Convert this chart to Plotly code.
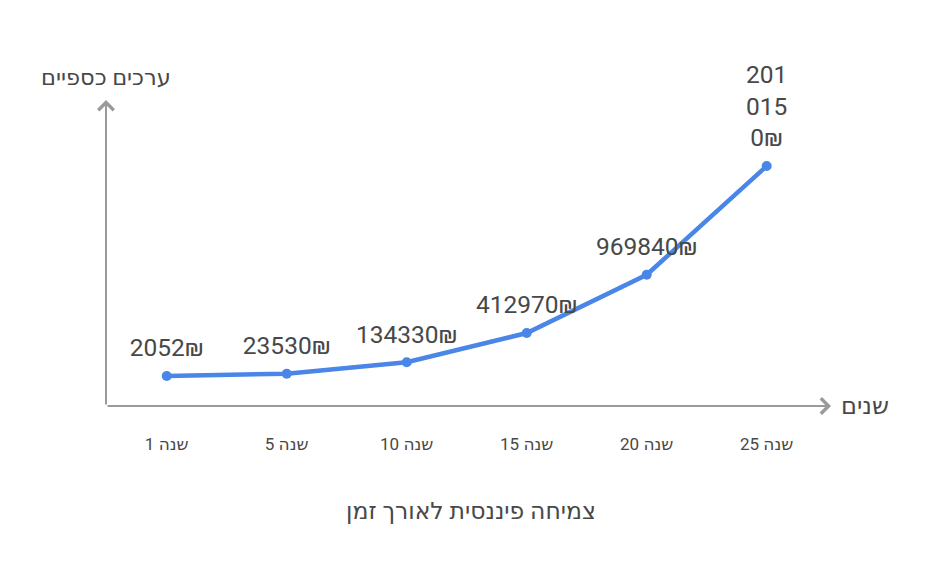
import plotly.graph_objects as go

# Data
years = ["1 שנה", "5 שנה", "10 שנה", "15 שנה", "20 שנה", "25 שנה"]
values = [2052, 23530, 134330, 412970, 969840, 2010150]
currency = "₪"

chart_title = "צמיחה פיננסית לאורך זמן"
x_title = "שנים"
y_title = "ערכים כספיים"

LINE = "#4a86e8"
AXIS = "#9a9a9a"
TEXT = "#484848"
FONT = "Roboto, 'DejaVu Sans', sans-serif"


def label(v, wrap=None):
    s = f"{v}{currency}"
    if wrap:
        s = "<br>".join(s[i:i + wrap] for i in range(0, len(s), wrap))
    return s


labels = [label(v) for v in values[:-1]] + [label(values[-1], wrap=3)]

W, H = 933, 588
OFF = 8  # page body margin
pw, ph = 725, 306
ml, mt = 106 - OFF, 100 - OFF
mr = W - ml - pw
mb = H - mt - ph

fig = go.Figure()
fig.add_trace(go.Scatter(
    x=years, y=values,
    mode="lines+markers",
    line=dict(color=LINE, width=4.5),
    marker=dict(color=LINE, size=10),
    hoverinfo="skip",
    cliponaxis=False,
))
# value labels (invisible larger markers push text further above the points)
fig.add_trace(go.Scatter(
    x=years, y=values,
    mode="markers+text",
    marker=dict(color="rgba(0,0,0,0)", size=20),
    text=labels,
    textposition="top center",
    textfont=dict(size=24.5, color=TEXT, family=FONT),
    hoverinfo="skip",
    cliponaxis=False,
))

fig.update_layout(
    width=W, height=H,
    margin=dict(l=ml, r=mr, t=mt, b=mb),
    paper_bgcolor="white", plot_bgcolor="white",
    showlegend=False,
    font=dict(family=FONT, color=TEXT),
    title=dict(text=chart_title, x=(471 - OFF) / W, xanchor="center",
               y=1 - (511 - OFF) / H, yanchor="middle",
               font=dict(size=23.5, color=TEXT, family=FONT)),
    xaxis=dict(range=[-0.506, 5.536], showgrid=False, zeroline=False,
               showline=False, ticks="", ticklabelstandoff=26,
               tickfont=dict(size=17, color=TEXT, family=FONT),
               fixedrange=True),
    yaxis=dict(range=[-284810, 2641190], showgrid=False, zeroline=False,
               showline=False, showticklabels=False, ticks="",
               fixedrange=True),
)

# x axis with arrow
fig.add_annotation(x=1, y=0, xref="paper", yref="paper",
                   ax=-pw, ay=0, axref="pixel", ayref="pixel",
                   showarrow=True, arrowhead=4, arrowsize=1.5, arrowwidth=2,
                   arrowcolor=AXIS, text="", standoff=0)
# y axis with arrow
fig.add_annotation(x=0, y=1, xref="paper", yref="paper",
                   ax=0, ay=ph, axref="pixel", ayref="pixel",
                   showarrow=True, arrowhead=4, arrowsize=1.5, arrowwidth=2,
                   arrowcolor=AXIS, text="", standoff=0)

# axis titles
fig.add_annotation(x=1, y=0, xref="paper", yref="paper", xshift=34,
                   text=x_title, showarrow=False, xanchor="center",
                   yanchor="middle", font=dict(size=24, color=TEXT, family=FONT))
fig.add_annotation(x=0, y=1, xref="paper", yref="paper", yshift=23,
                   text=y_title, showarrow=False, xanchor="center",
                   yanchor="middle", font=dict(size=22.5, color=TEXT, family=FONT))

fig.write_html("out.html")
